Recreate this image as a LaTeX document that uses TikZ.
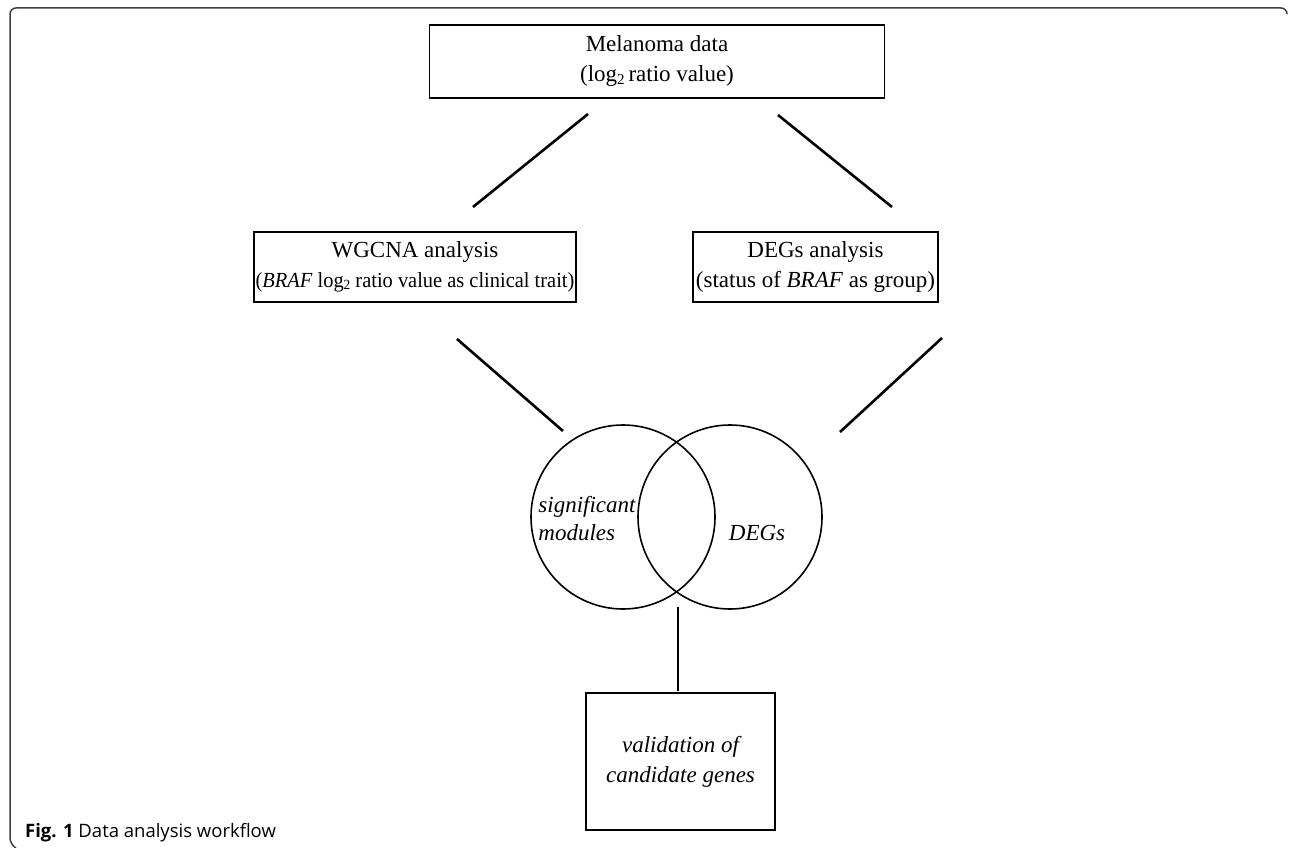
\documentclass[tikz,border=0pt]{standalone}
\usepackage{fontspec}
\setmainfont{Liberation Serif}
\newfontfamily\capfont{Open Sans}
\begin{document}
\begin{tikzpicture}[x=1pt,y=1pt,
  box/.style={draw=black,line width=1.6pt,align=center,inner sep=0pt,font=\fontsize{23}{30}\selectfont},
  conn/.style={line width=2.6pt},
  venn/.style={draw=black,line width=1.6pt,circle,minimum size=184pt,inner sep=0pt},
  vtext/.style={font=\fontsize{23}{28}\selectfont\itshape,align=left,inner sep=0pt}]
\useasboundingbox (0,0) rectangle (1290,-848);
% outer frame
\draw[line width=1.5pt,black!75,rounded corners=6pt] (1287,-14) -- (1287,-8) -- (10,-8) -- (10,-844) -- (16,-848);
% nodes
\node[box,minimum width=455pt,minimum height=73pt] (top) at (657,-61.5) {Melanoma data\\(log\raisebox{-0.2ex}{\fontsize{15}{15}\selectfont 2}\,ratio value)};
\node[box,minimum width=322pt,minimum height=70pt] (wg) at (415,-267) {WGCNA analysis\\\scalebox{0.95}[1]{\fontsize{21.5}{30}\selectfont(\textit{BRAF} log\raisebox{-0.2ex}{\fontsize{14}{14}\selectfont 2} ratio value as clinical trait)}};
\node[box,minimum width=245pt,minimum height=70pt] (deg) at (815.5,-267) {DEGs analysis\\(status of \textit{BRAF} as group)};
\node[venn] (c1) at (623,-517) {};
\node[venn] (c2) at (730,-517) {};
\node[vtext] (t1) at (587,-519) {significant\\modules};
\node[vtext] (t2) at (757,-533) {DEGs};
\node[box,minimum width=189pt,minimum height=137pt,font=\fontsize{23}{30}\selectfont\itshape] (val) at (680.5,-761.5) {validation of\\candidate genes};
\node[font=\capfont\fontsize{18.5}{22}\selectfont,anchor=base west,inner sep=0pt] (cap) at (25,-837) {\textbf{Fig. 1} Data analysis workflow};
% connector end points
\coordinate (a1) at (588,-114); \coordinate (a2) at (473,-207);
\coordinate (b1) at (778,-115); \coordinate (b2) at (892,-207);
\coordinate (c1a) at (457,-339); \coordinate (c1b) at (563,-431);
\coordinate (d1a) at (942,-338); \coordinate (d1b) at (840,-432);
\coordinate (e1) at (678,-607); \coordinate (e2) at (678,-691);
\draw[conn] (a1) -- (a2);
\draw[conn] (b1) -- (b2);
\draw[conn] (c1a) -- (c1b);
\draw[conn] (d1a) -- (d1b);
\draw[conn] (e1) -- (e2);
\end{tikzpicture}
\end{document}
